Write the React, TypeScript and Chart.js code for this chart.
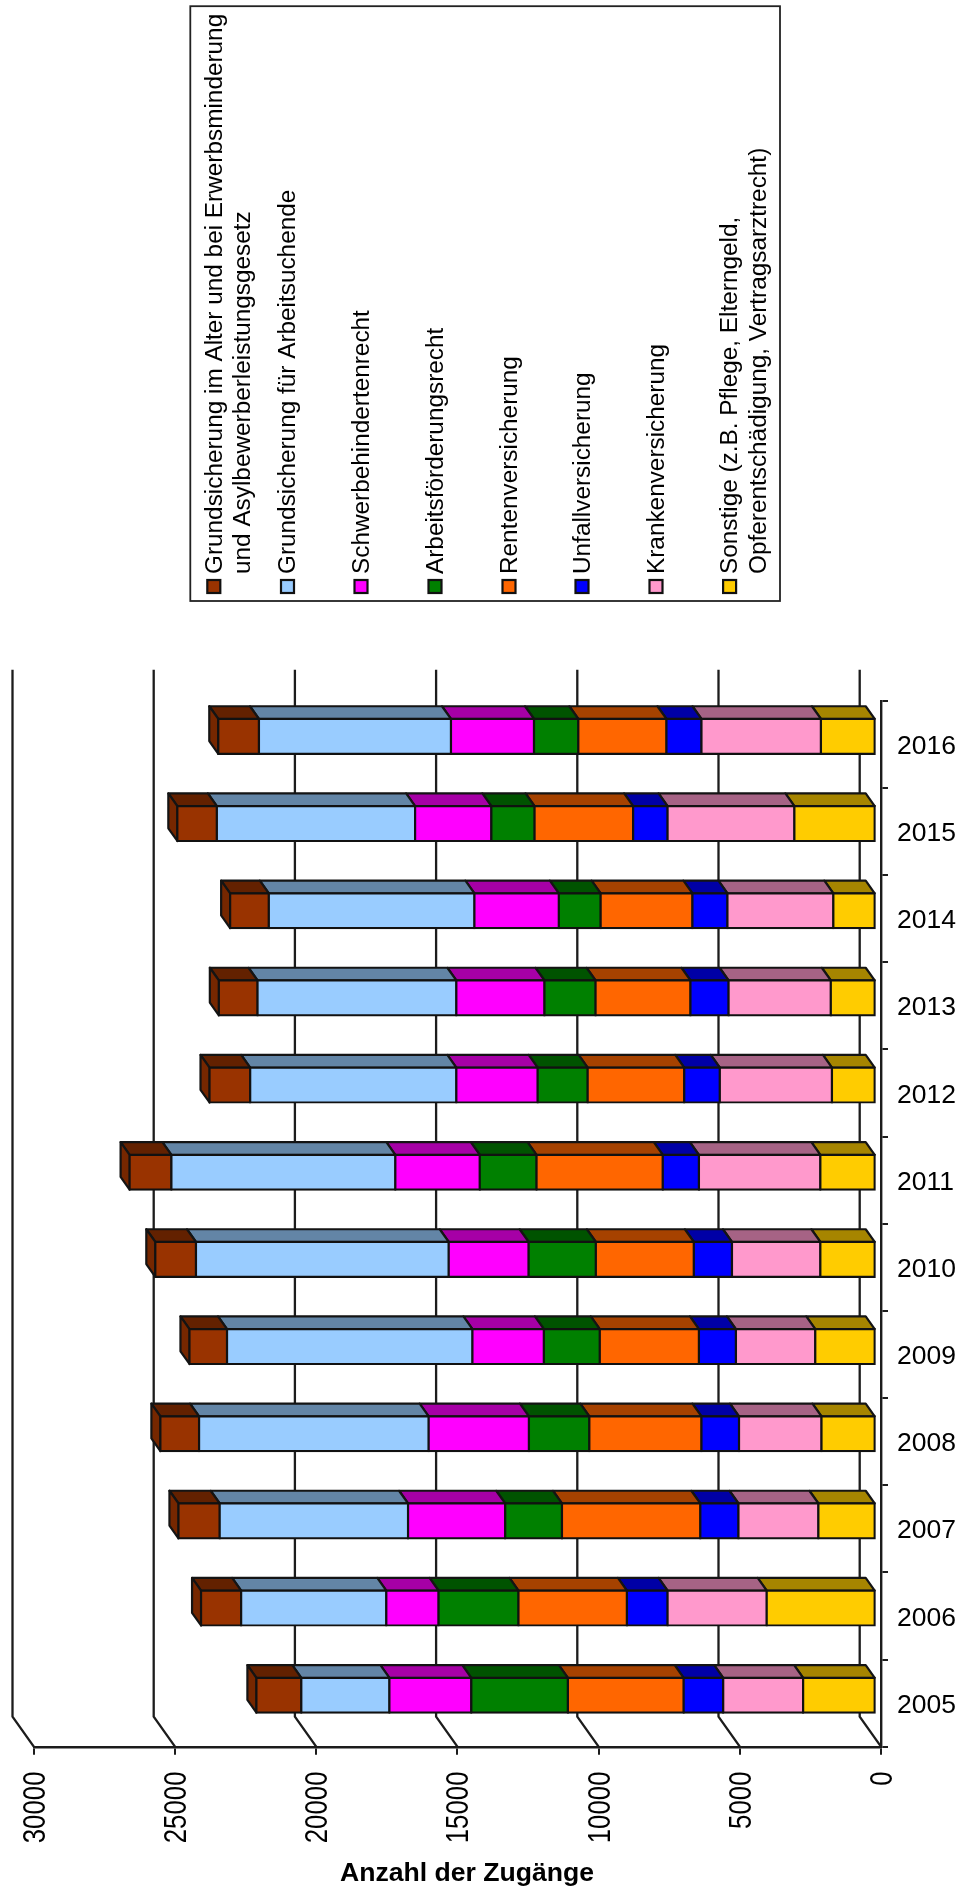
import React, { useEffect, useRef } from "react";
import { Chart, registerables } from "chart.js";

Chart.register(...registerables);

const years = ["2005","2006","2007","2008","2009","2010","2011","2012","2013","2014","2015","2016"];
const sonstige = [2570,3860,2030,1920,2140,1960,1960,1550,1590,1500,2880,1940];
const kranken = [2830,3510,2830,2920,2810,3130,4300,3970,3620,3750,4490,4230];
const unfall = [1400,1440,1350,1330,1310,1350,1280,1260,1350,1240,1220,1240];
const renten = [4100,3840,4900,3970,3510,3470,4470,3420,3360,3250,3490,3120];
const arbeit = [3420,2830,2010,2140,1980,2380,2010,1770,1810,1480,1530,1570];
const schwer = [2900,1850,3440,3550,2530,2830,2990,2880,3120,2990,2700,2940];
const gsSuchende = [3120,5140,6670,8130,8690,8950,7930,7300,7040,7280,7020,6800];
const gsAlter = [1590,1420,1460,1370,1330,1440,1480,1440,1370,1370,1400,1440];

const seriesNames = [
  "Sonstige (z.B. Pflege, Elterngeld, Opferentschädigung, Vertragsarztrecht)",
  "Krankenversicherung",
  "Unfallversicherung",
  "Rentenversicherung",
  "Arbeitsförderungsrecht",
  "Schwerbehindertenrecht",
  "Grundsicherung für Arbeitsuchende",
  "Grundsicherung im Alter und bei Erwerbsminderung und Asylbewerberleistungsgesetz",
];
const seriesColors = ["#FFCC00","#FF99CC","#0000FF","#FF6600","#008000","#FF00FF","#99CCFF","#993300"];
const seriesValues = [sonstige, kranken, unfall, renten, arbeit, schwer, gsSuchende, gsAlter];

const legendOrder = [7,6,5,4,3,2,1,0];
const legendLines: Record<number,string[]> = {
  7: ["Grundsicherung im Alter und bei Erwerbsminderung","und Asylbewerberleistungsgesetz"],
  6: ["Grundsicherung für Arbeitsuchende"],
  5: ["Schwerbehindertenrecht"],
  4: ["Arbeitsförderungsrecht"],
  3: ["Rentenversicherung"],
  2: ["Unfallversicherung"],
  1: ["Krankenversicherung"],
  0: ["Sonstige (z.B. Pflege, Elterngeld,","Opferentschädigung, Vertragsarztrecht)"],
};
const axisTitle = "Anzahl der Zugänge";

const FONT = '"Liberation Sans", Arial, sans-serif';
const INK = "#141414";

function shade(hex: string, k: number) {
  const n = parseInt(hex.slice(1), 16);
  const r = Math.round(((n >> 16) & 255) * k);
  const g = Math.round(((n >> 8) & 255) * k);
  const b = Math.round((n & 255) * k);
  return `rgb(${r},${g},${b})`;
}

function poly(ctx: CanvasRenderingContext2D, pts: number[][], fill: string) {
  ctx.beginPath();
  pts.forEach((p, i) => (i ? ctx.lineTo(p[0], p[1]) : ctx.moveTo(p[0], p[1])));
  ctx.closePath();
  ctx.fillStyle = fill;
  ctx.fill();
  ctx.lineWidth = 2.2;
  ctx.lineJoin = "round";
  ctx.strokeStyle = INK;
  ctx.stroke();
}

const WALL = { dx: -21.3, dy: -30 };
const BAR_SHIFT = { dx: -5.3, dy: -7.9 };
const BAR_DEPTH = { dx: -9, dy: -12.7 };

const threeD = {
  id: "threeD",
  beforeDatasetsDraw(chart: any) {
    const { ctx, chartArea, scales } = chart;
    ctx.save();
    ctx.strokeStyle = "#1c1c1c";
    ctx.lineWidth = 2.3;
    scales.x.ticks.forEach((t: any) => {
      const x = scales.x.getPixelForValue(t.value);
      ctx.beginPath();
      ctx.moveTo(x, chartArea.bottom);
      ctx.lineTo(x + WALL.dx, chartArea.bottom + WALL.dy);
      ctx.lineTo(x + WALL.dx, chartArea.top + WALL.dy - 1);
      ctx.stroke();
    });
    ctx.restore();

    ctx.save();
    ctx.translate(BAR_SHIFT.dx, BAR_SHIFT.dy);
    const n = chart.data.datasets.length;
    for (let i = 0; i < n; i++) {
      const color = chart.data.datasets[i].backgroundColor;
      chart.getDatasetMeta(i).data.forEach((el: any) => {
        const top = el.y - el.height / 2;
        const bottom = el.y + el.height / 2;
        const a = Math.max(el.x, el.base);
        const b = Math.min(el.x, el.base);
        poly(ctx, [[a, top],[a + BAR_DEPTH.dx, top + BAR_DEPTH.dy],[b + BAR_DEPTH.dx, top + BAR_DEPTH.dy],[b, top]], shade(color, 0.65));
        if (i === n - 1) {
          poly(ctx, [[b, top],[b + BAR_DEPTH.dx, top + BAR_DEPTH.dy],[b + BAR_DEPTH.dx, bottom + BAR_DEPTH.dy],[b, bottom]], shade(color, 0.77));
        }
      });
    }
  },
  afterDatasetsDraw(chart: any) {
    const { ctx, scales } = chart;
    ctx.restore();

    // value-axis labels, read upwards and slightly widened like the reference
    ctx.save();
    ctx.fillStyle = "#000";
    ctx.font = `25.8px ${FONT}`;
    ctx.textAlign = "right";
    ctx.textBaseline = "middle";
    scales.x.ticks.forEach((t: any) => {
      ctx.save();
      ctx.translate(scales.x.getPixelForValue(t.value) + 1, 1771.5);
      ctx.rotate(-Math.PI / 2);
      ctx.scale(1, 1.22);
      ctx.fillText(String(t.value), 0, 1);
      ctx.restore();
    });
    ctx.restore();

    // axis title
    ctx.save();
    ctx.fillStyle = "#000";
    ctx.font = `bold 26.6px ${FONT}`;
    ctx.textAlign = "center";
    ctx.textBaseline = "alphabetic";
    ctx.fillText(axisTitle, 467, 1881);
    ctx.restore();

    // legend
    ctx.save();
    ctx.lineWidth = 1.8;
    ctx.strokeStyle = "#222";
    ctx.strokeRect(190.3, 6.2, 589.7, 594.8);
    const rowX = [213.8, 287.5, 361, 435, 509, 582, 656, 729.6];
    legendOrder.forEach((idx, row) => {
      const cx = rowX[row];
      ctx.fillStyle = seriesColors[idx];
      ctx.lineWidth = 2.2;
      ctx.strokeStyle = "#111";
      ctx.fillRect(cx - 6.5, 580, 13, 13);
      ctx.strokeRect(cx - 6.5, 580, 13, 13);
      ctx.fillStyle = "#000";
      ctx.font = `24.35px ${FONT}`;
      ctx.textAlign = "left";
      ctx.textBaseline = "middle";
      legendLines[idx].forEach((line, k) => {
        ctx.save();
        ctx.translate(cx + k * 28.9, 574);
        ctx.rotate(-Math.PI / 2);
        ctx.fillText(line, 0, 1);
        ctx.restore();
      });
    });
    ctx.restore();
  },
};

export default function App() {
  const ref = useRef<HTMLCanvasElement>(null);
  useEffect(() => {
    const chart = new Chart(ref.current as HTMLCanvasElement, {
      type: "bar",
      data: {
        labels: years,
        datasets: seriesNames.map((name, i) => ({
          label: name,
          data: seriesValues[i],
          backgroundColor: seriesColors[i],
          borderColor: "#111",
          borderWidth: 2.2,
          borderSkipped: false,
          inflateAmount: 1.1,
          barPercentage: 0.4,
          categoryPercentage: 1,
          clip: false,
        })),
      } as any,
      options: {
        indexAxis: "y",
        animation: false,
        responsive: false,
        devicePixelRatio: 1,
        layout: { padding: { left: 33.8, top: 700.7, right: 4, bottom: 133.3 } },
        plugins: { legend: { display: false }, tooltip: { enabled: false }, title: { display: false } },
        scales: {
          x: {
            type: "linear",
            reverse: true,
            stacked: true,
            min: 0,
            max: 30000,
            position: "bottom",
            afterFit(s: any) { s.height = 10; s.paddingLeft = 0; s.paddingRight = 0; },
            ticks: { stepSize: 5000, display: false },
            grid: { drawOnChartArea: false, drawTicks: true, tickLength: 8, color: "#1c1c1c", lineWidth: 2 },
            border: { display: true, color: "#1c1c1c", width: 2.4 },
          },
          y: {
            type: "category",
            reverse: true,
            stacked: true,
            position: "right",
            afterFit(s: any) { s.width = 80; s.paddingTop = 0; s.paddingBottom = 0; },
            ticks: { color: "#000", font: { family: FONT, size: 26.5 }, padding: 9, labelOffset: 2.4 },
            grid: { drawOnChartArea: false, drawTicks: true, tickLength: 7, color: "#1c1c1c", lineWidth: 2 },
            border: { display: true, color: "#1c1c1c", width: 2.4 },
          },
        },
      } as any,
      plugins: [threeD as any],
    });
    return () => chart.destroy();
  }, []);
  return (
    <canvas
      ref={ref}
      width={965}
      height={1890}
      style={{ position: "absolute", left: 0, top: 0, display: "block", filter: "blur(0.35px)" }}
    />
  );
}
